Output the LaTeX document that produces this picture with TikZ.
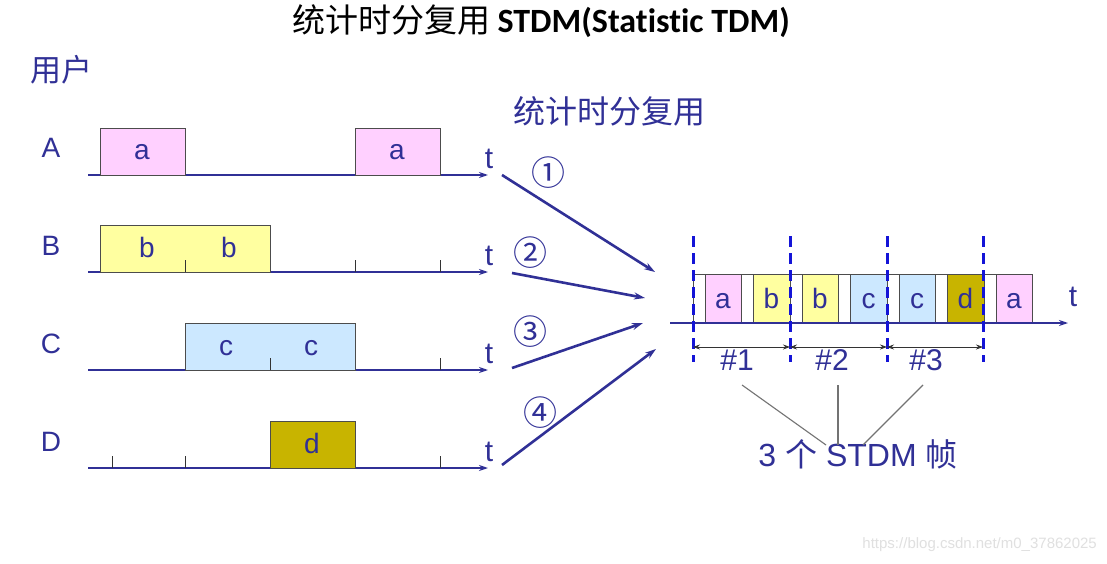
\documentclass[tikz,border=0pt]{standalone}
\usepackage{fontspec}
\setmainfont{Liberation Sans}
\newfontfamily\cjk{Noto Sans CJK SC}
\newfontfamily\titlefont{Carlito}[Ligatures=NoCommon]
\usetikzlibrary{arrows.meta}

\definecolor{navy}{RGB}{48,48,150}
\definecolor{apink}{RGB}{255,208,255}
\definecolor{byellow}{RGB}{255,255,160}
\definecolor{cblue}{RGB}{204,232,255}
\definecolor{dolive}{RGB}{200,180,0}
\definecolor{framedash}{RGB}{20,20,215}

\tikzset{
  axisline/.style={navy, line width=2.6pt, -{Stealth[length=9pt,width=6pt]}},
  slotbox/.style={draw=black!70, line width=0.9pt},
  lbl/.style={text=navy, inner sep=0pt, anchor=base, font=\fontsize{28}{30}\selectfont},
  tickmark/.style={black!80, line width=1pt},
  feed/.style={navy, line width=2.6pt, -{Stealth[length=11pt,width=7pt]}},
  framebar/.style={framedash, line width=3pt, dash pattern=on 11pt off 6pt},
  span/.style={black!80, line width=0.8pt, {Stealth[length=7pt,width=5pt]}-{Stealth[length=7pt,width=5pt]}},
  callout/.style={black!55, line width=1.1pt}
}

\begin{document}
\begin{tikzpicture}[x=1pt,y=-1pt]
  \useasboundingbox[fill=white] (0,0) rectangle (1107,564);
  \node[inner sep=0pt] (title) at (541,21)
    {\fontsize{33}{36}\selectfont\cjk 统计时分复用\ {\titlefont\bfseries\fontsize{34}{36}\selectfont STDM(Statistic TDM)}};
  \node[text=navy, inner sep=0pt] (users) at (61,70) {\fontsize{31}{33}\selectfont\cjk 用户};
  \node[text=navy, inner sep=0pt] (stdm) at (609,111) {\fontsize{32}{34}\selectfont\cjk 统计时分复用};

  \foreach \u/\y in {A/175,B/272,C/370,D/468} {
    \node[lbl] (user\u) at (51,\y-17) {\u};
    \draw[axisline] (88,\y) -- (488,\y);
    \node[lbl, font=\fontsize{30}{32}\selectfont] (t\u) at (489,\y-7) {t};
  }
  \foreach \x/\w/\y/\c in {100/85/175/apink, 355/85/175/apink, 100/170/272/byellow,
                           185/170/370/cblue, 270/85/468/dolive}
    \draw[slotbox, fill=\c] (\x,\y) rectangle (\x+\w,\y-47);
  \foreach \x/\y in {185/272, 355/272, 440/272, 270/370, 440/370, 112/468, 185/468, 440/468}
    \draw[tickmark] (\x,\y) -- (\x,\y-12);
  \foreach \x/\y/\l in {142/175/a, 397/175/a, 147/272/b, 229/272/b,
                        226/370/c, 311/370/c, 312/468/d}
    \node[lbl] at (\x,\y-15) {\l};

  \foreach \i/\ox/\oy/\ix/\iy/\nx/\ny/\n in {1/502/175/655/272/548/173/①, 2/512/273/645/298/530/253/②,
                                             3/512/368/643/323/530/332/③, 4/502/465/656/349/540/413/④} {
    \coordinate (out\i) at (\ox,\oy);
    \coordinate (in\i) at (\ix,\iy);
    \draw[feed] (out\i) -- (in\i);
    \node[text=navy, inner sep=0pt] (num\i) at (\nx,\ny) {\fontsize{34}{36}\selectfont\cjk\n};
  }

  \draw[slotbox, fill=white] (693,323) rectangle (1032,274);
  \foreach \i/\c/\l in {0/apink/a, 1/byellow/b, 2/byellow/b, 3/cblue/c, 4/cblue/c, 5/dolive/d, 6/apink/a} {
    \draw[slotbox, fill=\c] (705+48.5*\i,323) rectangle (741.5+48.5*\i,274);
    \node[lbl] (slot\i) at (723+48.5*\i,308) {\l};
  }
  \draw[axisline] (670,323) -- (1068,323);
  \node[lbl, font=\fontsize{30}{32}\selectfont] (tout) at (1073,306) {t};

  \foreach \x [count=\k] in {693,790,887,983} {
    \coordinate (bar\k) at (\x,347);
    \draw[framebar] (\x,236) -- (\x,362);
  }
  \foreach \a/\b/\mx [count=\k] in {1/2/737, 2/3/832, 3/4/926} {
    \draw[span] (bar\a) -- (bar\b);
    \node[lbl] (frame\k) at (\mx,370) {\fontsize{30}{32}\selectfont\#\k};
  }

  \node[lbl] (frames) at (858,466) {\fontsize{32}{34}\selectfont 3 {\cjk 个} STDM {\cjk 帧}};
  \foreach \k/\sx/\ex in {1/742/826, 2/838/838, 3/923/863} {
    \coordinate (from\k) at (\sx,385);
    \coordinate (to\k) at (\ex,445);
    \draw[callout] (from\k) -- (to\k);
  }

  \node[text=black!12, inner sep=0pt, anchor=east] (mark) at (1097,545)
    {\fontsize{15}{17}\selectfont https://blog.csdn.net/m0\_37862025};
\end{tikzpicture}
\end{document}
